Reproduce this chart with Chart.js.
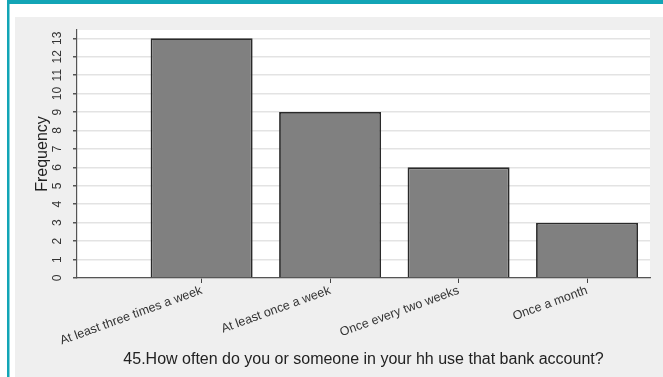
<!DOCTYPE html>
<html>
<head>
<meta charset="utf-8">
<script src="https://cdn.jsdelivr.net/npm/chart.js@4"></script>
<style>
  html, body { margin: 0; padding: 0; background: #ffffff; }
  #wrap { width: 663px; height: 377px; position: relative; }
</style>
</head>
<body>
<div id="wrap"><canvas id="c" width="663" height="377"></canvas></div>
<script>
const categories = ["At least three times a week", "At least once a week", "Once every two weeks", "Once a month"];
const positions = [1, 2, 3, 4];
const frequencies = [13, 9, 6, 3];
const yTicks = [0,1,2,3,4,5,6,7,8,9,10,11,12,13];
const xTitle = "45.How often do you or someone in your hh use that bank account?";
const yTitle = "Frequency";

const bgPlugin = {
  id: 'bg',
  beforeDraw(chart) {
    const ctx = chart.ctx;
    const a = chart.chartArea;
    ctx.save();
    ctx.fillStyle = '#ffffff';
    ctx.fillRect(0, 0, chart.width, chart.height);
    ctx.fillStyle = '#efefef';
    ctx.fillRect(15, 17, chart.width - 15, chart.height - 17);
    ctx.fillStyle = '#12a5b6';
    ctx.fillRect(7, 0, chart.width - 7, 4);
    ctx.fillRect(7, 0, 2.5, chart.height);
    ctx.fillStyle = '#ffffff';
    ctx.fillRect(a.left, a.top, a.right - a.left, a.bottom - a.top);
    ctx.restore();
  }
};

new Chart(document.getElementById('c'), {
  type: 'bar',
  data: {
    datasets: [{
      data: positions.map((p, i) => ({ x: p, y: frequencies[i] })),
      backgroundColor: '#808080',
      borderColor: '#2a2a2a',
      borderWidth: 1.8,
      categoryPercentage: 1,
      barPercentage: 0.794
    }]
  },
  options: {
    responsive: false,
    animation: false,
    events: [],
    layout: { padding: { left: 20, top: 30, right: 13, bottom: 8 } },
    plugins: { legend: { display: false }, tooltip: { enabled: false } },
    scales: {
      x: {
        type: 'linear',
        min: 0.03,
        max: 4.49,
        offset: false,
        afterBuildTicks(scale) { scale.ticks = positions.map(v => ({ value: v })); },
        afterFit(scale) { scale.height = 91; },
        grid: { display: true, drawOnChartArea: false, drawTicks: true, tickLength: 5, tickColor: '#444', offset: false },
        border: { display: true, color: '#555', width: 1.2 },
        ticks: {
          autoSkip: false,
          minRotation: 20, maxRotation: 20,
          padding: 0,
          color: '#333',
          font: { family: '"Liberation Sans", Arial, sans-serif', size: 12.5 },
          callback: (v) => categories[positions.indexOf(v)]
        },
        title: {
          display: true,
          text: xTitle,
          color: '#222',
          font: { family: '"Liberation Sans", Arial, sans-serif', size: 16 },
          padding: { top: 4, bottom: 0 }
        }
      },
      y: {
        min: 0,
        max: 13.45,
        afterBuildTicks(scale) { scale.ticks = yTicks.map(v => ({ value: v })); },
        afterFit(scale) { scale.width = 57; },
        grid: { color: '#e3e3e3', lineWidth: 1.5, tickColor: '#555', tickLength: 4, drawTicks: true },
        border: { display: true, color: '#555', width: 1.2 },
        ticks: {
          minRotation: 90, maxRotation: 90,
          crossAlign: 'center',
          padding: 9,
          color: '#333',
          font: { family: '"Liberation Sans Narrow", "Liberation Sans", Arial, sans-serif', size: 12 }
        },
        title: {
          display: true,
          text: yTitle,
          color: '#222',
          font: { family: '"Liberation Sans", Arial, sans-serif', size: 16 },
          padding: { top: 12.5, bottom: 0 }
        }
      }
    }
  },
  plugins: [bgPlugin]
});
</script>
</body>
</html>
